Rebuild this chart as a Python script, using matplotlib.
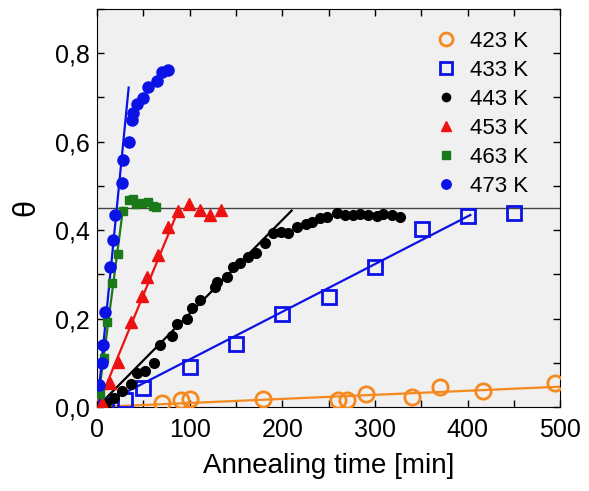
import numpy as np
import matplotlib
matplotlib.use('Agg')
import matplotlib.pyplot as plt
from matplotlib.ticker import MultipleLocator, FuncFormatter

plt.rcParams['font.family'] = ['Liberation Sans', 'DejaVu Sans']

# 423 K
t423 = [0, 70, 90, 100, 179, 260, 270, 290, 340, 370, 417, 494]
th423 = [0.0, 0.01, 0.016, 0.018, 0.018, 0.016, 0.016, 0.029, 0.023, 0.045, 0.036, 0.054]
# 433 K
t433 = [10, 30, 50, 100, 150, 200, 250, 300, 351, 400, 450]
th433 = [0.005, 0.016, 0.043, 0.09, 0.142, 0.21, 0.248, 0.317, 0.402, 0.432, 0.439]
# 443 K
t443 = [10, 18, 27, 36, 43, 52, 61, 68, 81, 86, 97, 102, 111, 127, 129, 140, 147,
        154, 163, 172, 181, 190, 199, 206, 216, 225, 232, 241, 248, 259, 268, 276,
        284, 293, 302, 309, 318, 327]
th443 = [0.01, 0.02, 0.037, 0.052, 0.077, 0.082, 0.099, 0.14, 0.16, 0.187, 0.2, 0.224,
         0.242, 0.271, 0.283, 0.294, 0.317, 0.325, 0.34, 0.348, 0.37, 0.393, 0.396,
         0.393, 0.408, 0.414, 0.419, 0.427, 0.43, 0.439, 0.434, 0.434, 0.436, 0.435,
         0.432, 0.436, 0.434, 0.43]
# 453 K
t453 = [5, 14, 23, 36, 48, 54, 66, 77, 87, 99, 111, 122, 134]
th453 = [0.01, 0.054, 0.102, 0.193, 0.25, 0.295, 0.344, 0.408, 0.442, 0.46, 0.445, 0.434, 0.445]
# 463 K
t463 = [3, 7, 10.5, 16, 23, 28, 34, 39, 42, 48, 55, 60, 64]
th463 = [0.03, 0.11, 0.193, 0.28, 0.347, 0.442, 0.468, 0.47, 0.46, 0.461, 0.464, 0.455, 0.453]
# 473 K
t473 = [2, 5, 6.5, 8.6, 14, 17.6, 19.4, 26.6, 28.4, 34, 37.4, 39, 43, 50, 55.4, 64.5, 70, 77]
th473 = [0.05, 0.1, 0.14, 0.215, 0.317, 0.377, 0.434, 0.507, 0.558, 0.6, 0.649, 0.664,
         0.685, 0.698, 0.724, 0.736, 0.758, 0.762]

# linear fits (start, end)
fit423 = ([0, 500], [0, 0.046])
fit433 = ([0, 403], [0, 0.434])
fit443 = ([0, 210], [0, 0.444])
fit453 = ([0, 87], [0, 0.442])
fit463 = ([0, 28], [0, 0.45])
fit473 = ([0, 34], [0, 0.722])

orange = '#f5891f'
blue = '#0a12e6'

fig = plt.figure(figsize=(5.89, 4.91), dpi=100)
ax = fig.add_axes([0.165, 0.171, 0.786, 0.811])
ax.set_facecolor('#f0f0f0')

ax.axhline(0.45, color='#444444', lw=1.0, zorder=1)

ax.plot(*fit423, color=orange, lw=1.6, zorder=2)
ax.plot(*fit433, color=blue, lw=1.6, zorder=2)
ax.plot(*fit443, color='black', lw=1.6, zorder=2)
ax.plot(*fit453, color='#ee1111', lw=1.6, zorder=2)
ax.plot(*fit463, color='#1a7a1a', lw=1.6, zorder=2)
ax.plot(*fit473, color=blue, lw=1.6, zorder=2)

ax.plot(t423, th423, 'o', ms=11, mfc='none', mec=orange, mew=2, label='423 K', zorder=3)
ax.plot(t433, th433, 's', ms=10, mfc='none', mec=blue, mew=2, label='433 K', zorder=3)
ax.plot(t443, th443, 'o', ms=7, color='black', label='443 K', zorder=3)
ax.plot(t453, th453, '^', ms=8.5, color='#ee1111', label='453 K', zorder=3)
ax.plot(t463, th463, 's', ms=6, color='#1a7a1a', label='463 K', zorder=3)
ax.plot(t473, th473, 'o', ms=8, color=blue, label='473 K', zorder=3)

ax.set_xlim(0, 500)
ax.set_ylim(0, 0.9)
ax.xaxis.set_major_locator(MultipleLocator(100))
ax.xaxis.set_minor_locator(MultipleLocator(50))
ax.yaxis.set_major_locator(MultipleLocator(0.2))
ax.yaxis.set_minor_locator(MultipleLocator(0.1))
ax.yaxis.set_major_formatter(FuncFormatter(lambda v, p: f'{v:.1f}'.replace('.', ',')))
ax.tick_params(which='both', direction='in', top=True, right=True, length=5, width=1)
ax.tick_params(axis='y', labelsize=18, pad=5)
ax.tick_params(axis='x', labelsize=18, pad=8)

ax.set_xlabel('Annealing time [min]', fontsize=20, labelpad=8)
ax.set_ylabel('θ', fontsize=22, labelpad=10)

leg = ax.legend(loc='upper right', bbox_to_anchor=(0.95, 0.967), frameon=False,
                fontsize=16, handletextpad=0.5, labelspacing=0.36,
                borderaxespad=0.0, handlelength=1.2)
for line in leg.get_lines():
    line.set_markersize(line.get_markersize() * 0.85)

fig.savefig('out.png', dpi=100)
